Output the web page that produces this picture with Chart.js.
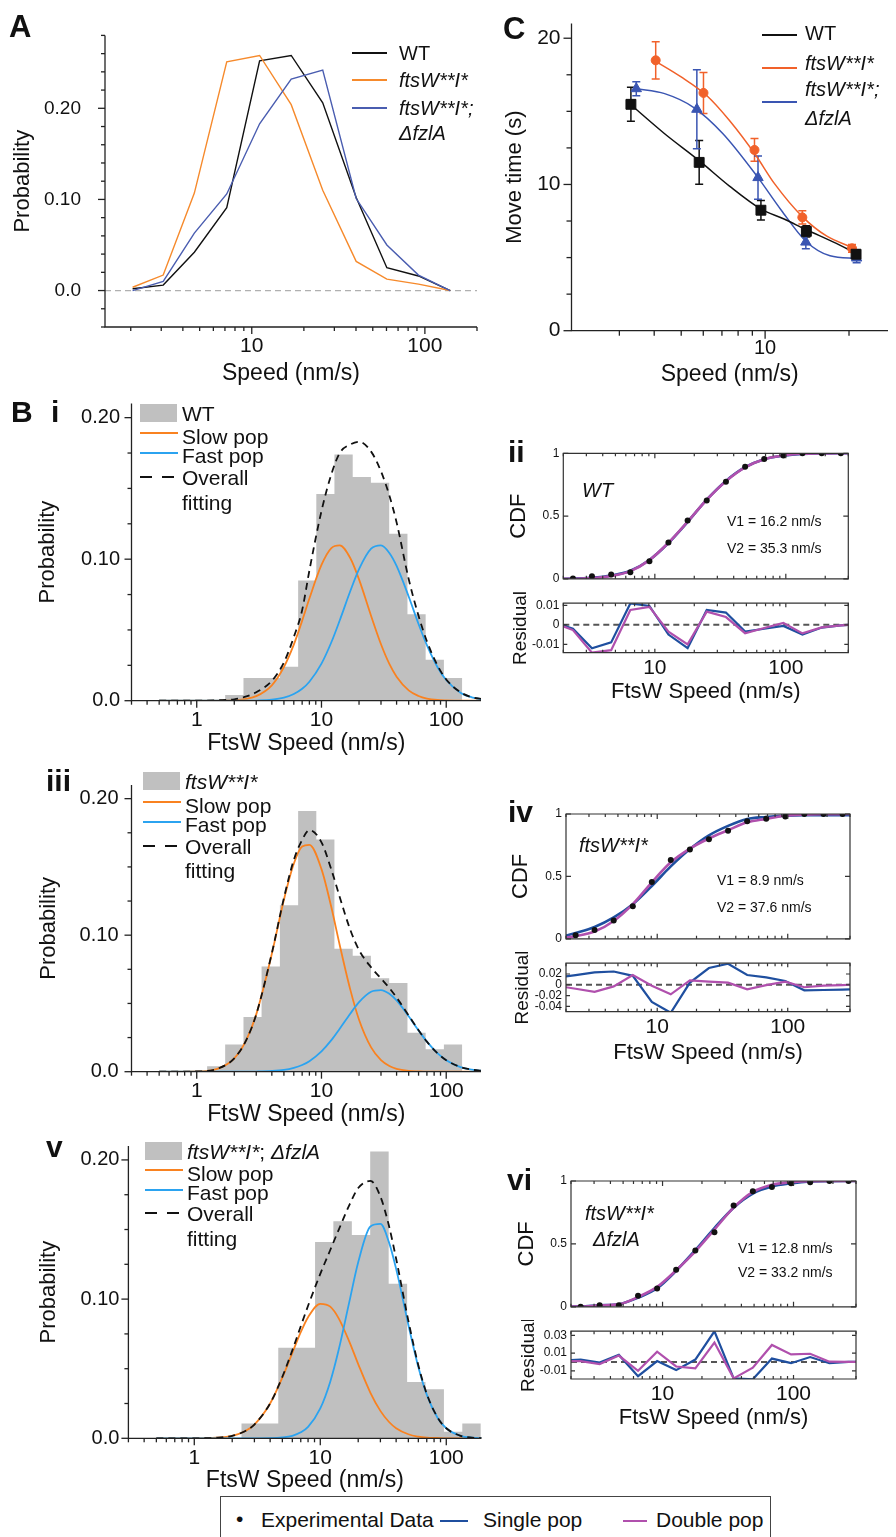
<!DOCTYPE html>
<html><head><meta charset="utf-8">
<script src="https://cdn.jsdelivr.net/npm/chart.js@4.4.1/dist/chart.umd.min.js"></script>
<style>
html,body{margin:0;padding:0;background:#fff;}
body{width:896px;height:1537px;overflow:hidden;position:relative;font-family:"Liberation Sans",Arial,sans-serif;color:#111;}
canvas{position:absolute;}
.t{position:absolute;white-space:nowrap;line-height:1;color:#111;}
.ln{position:absolute;}
</style></head><body>
<script>
// ---------------- DATA ----------------
// Panel A (probability vs speed)
const speedsA = [2.05, 3.08, 4.66, 7.17, 11.1, 16.9, 25.7, 40.1, 60.3, 91.8, 140];
const probWT_A = [0.002, 0.006, 0.042, 0.091, 0.252, 0.258, 0.206, 0.102, 0.025, 0.016, 0];
const probMut_A = [0.0036, 0.017, 0.107, 0.251, 0.258, 0.204, 0.110, 0.032, 0.0125, 0.007, 0];
const probFz_A = [0, 0.010, 0.063, 0.106, 0.183, 0.232, 0.242, 0.101, 0.050, 0.017, 0];

// Panel C (move time vs speed)
const speedWT_C = [3.30, 5.80, 9.66, 14.06, 21.2];
const timeWT_C = [15.48, 11.51, 8.24, 6.79, 5.23];
const errWT_C = [1.16, 1.5, 0.67, 0.38, 0.3];
const speedMut_C = [4.05, 6.01, 9.16, 13.6, 20.5];
const timeMut_C = [18.49, 16.26, 12.36, 7.75, 5.63];
const errMut_C = [1.27, 1.4, 0.78, 0.45, 0.27];
const speedFz_C = [3.45, 5.69, 9.43, 14.0, 21.3];
const timeFz_C = [16.55, 15.14, 10.47, 6.06, 4.97];
const errFz_C = [0.48, 2.7, 1.48, 0.45, 0.33];
const fitWTx_C = [3.30, 4.36, 5.80, 7.45, 9.61, 11.75, 14.06, 17.6, 21.2];
const fitWTy_C = [15.45, 13.47, 11.63, 9.89, 8.35, 7.62, 6.9, 6.06, 5.3];
const fitMutx_C = [4.05, 4.98, 6.17, 7.45, 9.23, 10.84, 13.6, 16.65, 20.67];
const fitMuty_C = [18.42, 17.37, 16.08, 14.37, 12.03, 10.02, 7.8, 6.46, 5.68];
const fitFzx_C = [3.44, 4.36, 5.55, 7.06, 9.43, 11.43, 14.0, 17.1, 21.3];
const fitFzy_C = [16.55, 16.21, 15.26, 13.47, 10.47, 8.24, 6.12, 5.12, 4.94];

// Panels B i / iii / v histograms
const binEdges = [1.21, 1.69, 2.37, 3.31, 4.64, 6.5, 9.09, 12.7, 17.8, 24.9, 34.9, 48.9, 68.4, 95.8, 134, 188];
const histI   = [0, 0.004, 0.016, 0.016, 0.024, 0.085, 0.146, 0.174, 0.158, 0.154, 0.118, 0.061, 0.029, 0.016, 0];
const histIII = [0.004, 0.020, 0.040, 0.077, 0.122, 0.191, 0.170, 0.090, 0.085, 0.0685, 0.065, 0.0285, 0.0164, 0.020, 0];
const histV   = [0, 0, 0.0106, 0.0106, 0.065, 0.065, 0.141, 0.156, 0.146, 0.206, 0.111, 0.0404, 0.0352, 0.0047, 0.0106];
const curveX  = [0.5, 1, 1.5, 2, 2.5, 3, 4, 5, 6, 7, 8, 10, 12, 14, 17, 20, 25, 30, 35, 40, 50, 60, 70, 85, 100, 130, 160, 200];
const slowI   = [0, 0, 0.0001, 0.0004, 0.0013, 0.0032, 0.0109, 0.0238, 0.0396, 0.0565, 0.0722, 0.0959, 0.1078, 0.1097, 0.1008, 0.0857, 0.0599, 0.0399, 0.026, 0.017, 0.0073, 0.0033, 0.0015, 0.0005, 0.0002, 0, 0, 0];
const fastI   = [0, 0, 0, 0, 0, 0.0001, 0.0007, 0.0021, 0.0047, 0.0084, 0.0134, 0.0262, 0.0413, 0.0567, 0.0773, 0.093, 0.1074, 0.1097, 0.1044, 0.0952, 0.0736, 0.0542, 0.0392, 0.0238, 0.0146, 0.0057, 0.0024, 0.0008];
const fitI    = [0, 0, 0.0003, 0.001, 0.003, 0.006, 0.014, 0.027, 0.045, 0.064, 0.092, 0.134, 0.160, 0.175, 0.181, 0.183, 0.176, 0.162, 0.145, 0.126, 0.086, 0.060, 0.042, 0.025, 0.015, 0.006, 0.0025, 0.001];
const slowIII = [0, 0.0002, 0.0025, 0.0098, 0.0233, 0.042, 0.0863, 0.126, 0.1523, 0.1649, 0.1662, 0.1484, 0.1204, 0.0928, 0.0603, 0.0381, 0.0178, 0.0085, 0.0042, 0.0021, 0.0006, 0.0002, 0, 0, 0, 0, 0, 0];
const fastIII = [0, 0, 0, 0, 0, 0.0001, 0.0005, 0.0013, 0.0028, 0.0049, 0.0077, 0.0149, 0.0231, 0.0315, 0.0425, 0.051, 0.0586, 0.0598, 0.0571, 0.0522, 0.0406, 0.0302, 0.022, 0.0136, 0.0084, 0.0034, 0.0015, 0.0005];
const fitIII  = [0, 0.0002, 0.0025, 0.0098, 0.0233, 0.042, 0.0868, 0.1273, 0.1551, 0.1698, 0.177, 0.168, 0.148, 0.128, 0.104, 0.0891, 0.0764, 0.0683, 0.0613, 0.0543, 0.0412, 0.0304, 0.022, 0.0136, 0.0084, 0.0034, 0.0015, 0.0005];
const slowV   = [0, 0, 0.0004, 0.0018, 0.0049, 0.0099, 0.025, 0.0436, 0.0614, 0.0762, 0.087, 0.0966, 0.0946, 0.0862, 0.0695, 0.0533, 0.0327, 0.0197, 0.0119, 0.0073, 0.0029, 0.0012, 0.0005, 0.0002, 0, 0, 0, 0];
const fastV   = [0, 0, 0, 0, 0, 0, 0.0001, 0.0006, 0.0018, 0.0043, 0.0082, 0.0215, 0.0407, 0.0636, 0.098, 0.1265, 0.1522, 0.154, 0.1411, 0.1217, 0.0816, 0.0513, 0.0314, 0.015, 0.0072, 0.0018, 0.0005, 0.0001];
const fitV    = [0, 0, 0.0004, 0.0018, 0.0049, 0.0099, 0.0251, 0.0442, 0.0632, 0.0805, 0.0952, 0.1181, 0.1353, 0.1498, 0.1675, 0.1798, 0.1849, 0.1737, 0.153, 0.129, 0.0845, 0.0525, 0.0319, 0.0152, 0.0072, 0.0018, 0.0005, 0.0001];

// Panels B ii / iv / vi CDF and residuals
const cdfX = [2.37, 3.31, 4.64, 6.5, 9.09, 12.7, 17.8, 24.9, 34.9, 48.9, 68.4, 95.8, 134, 188, 263];
const cdfII = [0.003, 0.02, 0.035, 0.053, 0.14, 0.29, 0.465, 0.623, 0.774, 0.892, 0.955, 0.982, 1.0, 1.0, 1.0];
const cdfIV = [0.028, 0.071, 0.146, 0.26, 0.455, 0.631, 0.715, 0.798, 0.866, 0.942, 0.962, 0.98, 1.0, 1.0, 1.0];
const cdfVI = [0, 0.013, 0.013, 0.088, 0.146, 0.295, 0.448, 0.592, 0.806, 0.919, 0.952, 0.982, 0.99, 1.0, 1.0];
const fitX = [2, 2.37, 3.31, 4.64, 6.5, 9.09, 12.7, 17.8, 24.9, 34.9, 48.9, 68.4, 95.8, 134, 188, 263, 300];
const singleII = [0.0005, 0.001, 0.008, 0.026, 0.064, 0.15, 0.285, 0.453, 0.631, 0.78, 0.889, 0.953, 0.981, 0.995, 0.999, 1.0, 1.0];
const doubleII = [0.0005, 0.0005, 0.006, 0.022, 0.061, 0.149, 0.287, 0.455, 0.63, 0.778, 0.888, 0.953, 0.983, 0.996, 0.999, 1.0, 1.0];
const singleIV = [0.025, 0.046, 0.094, 0.171, 0.277, 0.423, 0.58, 0.719, 0.829, 0.905, 0.96, 0.976, 0.987, 0.99, 0.99, 0.991, 0.991];
const doubleIV = [0.01, 0.021, 0.058, 0.143, 0.278, 0.453, 0.613, 0.723, 0.804, 0.87, 0.933, 0.961, 0.986, 0.995, 0.998, 0.999, 1.0];
const singleVI = [0.002, 0.003, 0.012, 0.021, 0.072, 0.147, 0.286, 0.451, 0.626, 0.788, 0.9, 0.956, 0.981, 0.996, 0.999, 1.0, 1.0];
const doubleVI = [0.001, 0.001, 0.011, 0.02, 0.078, 0.158, 0.29, 0.441, 0.614, 0.788, 0.913, 0.971, 0.99, 0.999, 1.0, 1.0, 1.0];
const resSingleII = [-0.0003, -0.002, -0.012, -0.009, 0.011, 0.0097, -0.005, -0.012, 0.0076, 0.0063, -0.0035, -0.002, -0.0006, -0.005, -0.0014, -0.0003, 0];
const resDoubleII = [-0.0008, -0.0027, -0.0143, -0.013, 0.0076, 0.0092, -0.0035, -0.010, 0.0068, 0.004, -0.0043, -0.0016, 0.001, -0.0044, -0.0013, -0.0003, 0];
const resSingleIV = [0.0154, 0.018, 0.023, 0.0246, 0.0166, -0.032, -0.052, 0.004, 0.031, 0.039, 0.018, 0.0137, 0.007, -0.0103, -0.0097, -0.009, -0.0086];
const resDoubleIV = [-0.0046, -0.0074, -0.013, -0.003, 0.018, -0.0017, -0.0177, 0.008, 0.0057, 0.004, -0.0086, -0.0006, 0.0057, -0.0046, -0.0017, -0.0006, 0];
const resSingleVI = [0.002, 0.0027, -0.0007, 0.0079, -0.016, 0.001, -0.0092, 0.0027, 0.0345, -0.0185, -0.0195, 0.0038, -0.0014, 0.0055, -0.0014, 0, 0];
const resDoubleVI = [0.001, 0.001, -0.0024, 0.0072, -0.0099, 0.0116, -0.0051, -0.0072, 0.0219, -0.0185, -0.0065, 0.0191, 0.0085, 0.0092, 0.0003, 0, 0];

// tick values / labels
const logMinorBig = [0.3,0.4,0.5,0.6,0.7,0.8,0.9,2,3,4,5,6,7,8,9,20,30,40,50,60,70,80,90,200];
const logMinorCdf = [2,3,4,5,6,7,8,9,20,30,40,50,60,70,80,90,200,300];

// ---------------- HELPERS ----------------
const FONT = '"Liberation Sans", Arial, Helvetica, sans-serif';
Chart.defaults.font.family = FONT;
Chart.defaults.color = '#111';

const C_ORANGE_A = '#f68a2c', C_BLUE_A = '#4a5db0';
const C_ORANGE_C = '#f1612a', C_BLUE_C = '#3a55b2';
const C_SLOW = '#f98220', C_FAST = '#2ba3f0', C_HIST = '#c0c0c0';
const C_SINGLE = '#1f4f9f', C_DOUBLE = '#b050ad';

function canvasAt(left, top, w, h) {
  const c = document.createElement('canvas');
  c.width = w; c.height = h;
  c.style.left = left + 'px'; c.style.top = top + 'px';
  c.style.width = w + 'px'; c.style.height = h + 'px';
  document.body.appendChild(c);
  return c;
}
function T(html, x, yc, size, extra) {
  const d = document.createElement('div');
  d.className = 't'; d.innerHTML = html;
  d.style.left = x + 'px'; d.style.top = (yc - size * 0.5) + 'px'; d.style.fontSize = size + 'px';
  if (extra) Object.assign(d.style, extra);
  document.body.appendChild(d);
}
function L(x1, x2, y, color, w, dash) {
  const d = document.createElement('div');
  d.className = 'ln';
  d.style.left = x1 + 'px'; d.style.top = (y - w / 2) + 'px';
  d.style.width = (x2 - x1) + 'px'; d.style.height = w + 'px';
  d.style.background = dash ? `repeating-linear-gradient(to right, ${color} 0 ${dash[0]}px, transparent ${dash[0]}px ${dash[0] + dash[1]}px)` : color;
  document.body.appendChild(d);
}
function box(x, y, w, h, bg, border) {
  const d = document.createElement('div');
  d.className = 'ln';
  Object.assign(d.style, {left: x + 'px', top: y + 'px', width: w + 'px', height: h + 'px', background: bg || 'transparent', border: border || 'none', boxSizing: 'border-box'});
  document.body.appendChild(d);
}
const pts = (xs, ys) => xs.map((x, i) => ({x, y: ys[i]}));

function xLog(o) {
  return {
    type: 'logarithmic', min: o.min, max: o.max, display: o.show !== false,
    grid: {display: false, drawTicks: false}, border: {display: false},
    afterBuildTicks: s => { s.ticks = o.major.map(v => ({value: v})); },
    afterFit: s => { if (o.h !== undefined) s.height = o.h; },
    ticks: {autoSkip: false, maxRotation: 0, minRotation: 0, padding: o.pad || 0, font: {size: o.fs || 20}, color: '#111', callback: (v, i) => o.labels[i]},
    title: o.title ? {display: true, text: o.title, font: {size: o.tfs}, color: '#111', padding: {top: 0, bottom: o.tpad}} : {display: false}
  };
}
function yLin(o) {
  return {
    type: 'linear', min: o.min, max: o.max,
    grid: {display: false, drawTicks: false}, border: {display: false},
    afterBuildTicks: s => { s.ticks = o.major.map(v => ({value: v})); },
    afterFit: s => { s.width = o.w; },
    ticks: {autoSkip: false, padding: o.pad, font: {size: o.fs}, color: '#111', callback: (v, i) => o.labels[i]},
    title: {display: true, text: o.title, font: {size: o.tfs}, color: '#111', padding: {top: o.tpad, bottom: 0}}
  };
}

const decor = {
  id: 'decor',
  beforeDatasetsDraw(chart, args, o) {
    if (!o || !o.zero) return;
    const ctx = chart.ctx, ca = chart.chartArea, y = chart.scales.y.getPixelForValue(0);
    ctx.save();
    ctx.strokeStyle = o.zero.color; ctx.lineWidth = o.zero.width; ctx.setLineDash(o.zero.dash);
    ctx.beginPath(); ctx.moveTo(ca.left, y); ctx.lineTo(ca.right, y); ctx.stroke();
    ctx.restore();
  },
  afterDatasetsDraw(chart, args, o) {
    if (!o || !o.on) return;
    const ctx = chart.ctx, ca = chart.chartArea, xs = chart.scales.x, ys = chart.scales.y;
    ctx.save();
    ctx.strokeStyle = o.color || '#222'; ctx.lineWidth = o.lw || 1.3;
    ctx.beginPath();
    if (o.box) ctx.rect(ca.left, ca.top, ca.right - ca.left, ca.bottom - ca.top);
    else { ctx.moveTo(ca.left, ca.top); ctx.lineTo(ca.left, ca.bottom); ctx.lineTo(ca.right, ca.bottom); }
    ctx.stroke();
    const dir = o.inward ? -1 : 1;
    const xt = (vals, len) => (vals || []).forEach(v => {
      const p = xs.getPixelForValue(v);
      if (p < ca.left - 0.5 || p > ca.right + 0.5) return;
      ctx.beginPath(); ctx.moveTo(p, ca.bottom); ctx.lineTo(p, ca.bottom + dir * len);
      if (o.mirror) { ctx.moveTo(p, ca.top); ctx.lineTo(p, ca.top + len); }
      ctx.stroke();
    });
    const yt = (vals, len) => (vals || []).forEach(v => {
      const p = ys.getPixelForValue(v);
      if (p < ca.top - 0.5 || p > ca.bottom + 0.5) return;
      ctx.beginPath(); ctx.moveTo(ca.left, p); ctx.lineTo(ca.left - dir * len, p);
      if (o.mirror) { ctx.moveTo(ca.right, p); ctx.lineTo(ca.right - len, p); }
      ctx.stroke();
    });
    xt(o.xMajor, o.Lmaj); xt(o.xMinor, o.Lmin); yt(o.yMajor, o.Lmaj); yt(o.yMinor, o.Lmin);
    ctx.restore();
  }
};
const errbars = {
  id: 'errbars',
  beforeDatasetsDraw(chart) {
    const ctx = chart.ctx, xs = chart.scales.x, ys = chart.scales.y;
    chart.data.datasets.forEach(ds => {
      if (!ds.errs) return;
      ctx.save(); ctx.strokeStyle = ds.borderColor; ctx.lineWidth = 1.5;
      ds.data.forEach((p, j) => {
        const e = ds.errs[j], x = xs.getPixelForValue(p.x);
        const y1 = ys.getPixelForValue(p.y + e), y2 = ys.getPixelForValue(p.y - e);
        ctx.beginPath();
        ctx.moveTo(x, y1); ctx.lineTo(x, y2);
        ctx.moveTo(x - 4, y1); ctx.lineTo(x + 4, y1);
        ctx.moveTo(x - 4, y2); ctx.lineTo(x + 4, y2);
        ctx.stroke();
      });
      ctx.restore();
    });
  }
};
function opts(pad, x, y, dec) {
  return {
    responsive: false, animation: false, devicePixelRatio: 1,
    layout: {padding: pad},
    plugins: {legend: {display: false}, tooltip: {enabled: false}, decor: dec},
    scales: {x, y},
    elements: {point: {radius: 0}}
  };
}
function line(data, color, w, extra) {
  return Object.assign({data, borderColor: color, backgroundColor: color, borderWidth: w, pointRadius: 0, fill: false, tension: 0}, extra || {});
}

// ---------------- PANEL A ----------------
new Chart(canvasAt(0, 0, 490, 390), {
  type: 'line',
  data: {datasets: [
    line(pts(speedsA, probFz_A), C_BLUE_A, 1.4),
    line(pts(speedsA, probMut_A), C_ORANGE_A, 1.4),
    line(pts(speedsA, probWT_A), '#111', 1.4)
  ]},
  options: opts({top: 27, right: 13, left: 0, bottom: 0},
    xLog({min: 1.42, max: 200, major: [10, 100], labels: ['10', '100'], h: 63, pad: 7, fs: 21, title: 'Speed (nm/s)', tfs: 23, tpad: 3}),
    yLin({min: -0.04, max: 0.28, major: [0, 0.1, 0.2], labels: ['0.0', '0.10', '0.20'], w: 105, pad: 24, fs: 19, title: 'Probability', tfs: 22, tpad: 10}),
    {on: true, xMajor: [10, 100], xMinor: [2,3,4,5,6,7,8,9,20,30,40,50,60,70,80,90,200], yMajor: [0, 0.1, 0.2],
     yMinor: [-0.04,-0.02,0.02,0.04,0.06,0.08,0.12,0.14,0.16,0.18,0.22,0.24,0.26,0.28], Lmaj: 7, Lmin: 4, lw: 1.3,
     zero: {color: '#b0b0b0', width: 1.2, dash: [6, 4]}}),
  plugins: [decor]
});

// ---------------- PANEL C ----------------
new Chart(canvasAt(480, 0, 416, 390), {
  type: 'line',
  data: {datasets: [
    line(pts(speedWT_C, timeWT_C), '#111', 1, {showLine: false, pointStyle: 'rect', pointRadius: 7, errs: errWT_C}),
    line(pts(speedMut_C, timeMut_C), C_ORANGE_C, 1, {showLine: false, pointStyle: 'circle', pointRadius: 4.5, errs: errMut_C}),
    line(pts(speedFz_C, timeFz_C), C_BLUE_C, 1, {showLine: false, pointStyle: 'triangle', pointRadius: 6, errs: errFz_C}),
    line(pts(fitWTx_C, fitWTy_C), '#111', 1.5, {cubicInterpolationMode: 'monotone'}),
    line(pts(fitMutx_C, fitMuty_C), C_ORANGE_C, 1.5, {cubicInterpolationMode: 'monotone'}),
    line(pts(fitFzx_C, fitFzy_C), C_BLUE_C, 1.5, {cubicInterpolationMode: 'monotone'})
  ]},
  options: opts({top: 16.3, right: 0, left: 0, bottom: 0},
    xLog({min: 2.02, max: 27.6, major: [10], labels: ['10'], h: 59.3, pad: 6, fs: 20, title: 'Speed (nm/s)', tfs: 23, tpad: 1.5}),
    yLin({min: 0, max: 21, major: [0, 10, 20], labels: ['0', '10', '20'], w: 91.5, pad: 11, fs: 21, title: 'Move time (s)', tfs: 22, tpad: 22}),
    {on: true, xMajor: [10], xMinor: [2,3,4,5,6,7,8,9,20], yMajor: [0, 10, 20], yMinor: [2.5,5,7.5,12.5,15,17.5], Lmaj: 8, Lmin: 5, lw: 1.3}),
  plugins: [decor, errbars]
});

// ---------------- HISTOGRAM PANELS ----------------
function histChart(top, h, padTop, yW, xH, padRight, tpadY, ypad, xtpad, hist, slow, fast, fit) {
  const stepData = binEdges.map((e, i) => ({x: e, y: i < hist.length ? hist[i] : 0}));
  new Chart(canvasAt(0, top, 490, h), {
    type: 'line',
    data: {datasets: [
      line(pts(curveX, fit), '#111', 1.8, {borderDash: [7, 5], cubicInterpolationMode: 'monotone'}),
      line(pts(curveX, fast), C_FAST, 1.8, {cubicInterpolationMode: 'monotone'}),
      line(pts(curveX, slow), C_SLOW, 1.8, {cubicInterpolationMode: 'monotone'}),
      {data: stepData, stepped: true, borderWidth: 0, borderColor: 'rgba(0,0,0,0)', backgroundColor: C_HIST, fill: 'origin', pointRadius: 0}
    ]},
    options: opts({top: padTop, right: padRight, left: 0, bottom: 0},
      xLog({min: 0.3, max: 190, major: [1, 10, 100], labels: ['1', '10', '100'], h: xH, pad: 7, fs: 21, title: 'FtsW Speed (nm/s)', tfs: 23, tpad: xtpad}),
      yLin({min: 0, max: 0.21, major: [0, 0.1, 0.2], labels: ['0.0', '0.10', '0.20'], w: yW, pad: ypad, fs: 20, title: 'Probability', tfs: 22, tpad: tpadY}),
      {on: true, xMajor: [1, 10, 100], xMinor: logMinorBig, yMajor: [0, 0.1, 0.2], yMinor: [0.025,0.05,0.075,0.125,0.15,0.175], Lmaj: 7, Lmin: 4, lw: 1.3}),
    plugins: [decor]
  });
}
histChart(380, 380, 21.45, 131.5, 59.3, 9, 35, 11.5, 3, histI, slowI, fastI, fitI);
histChart(760, 370, 12.45, 131.5, 58.3, 9, 36, 13, 2, histIII, slowIII, fastIII, fitIII);
histChart(1125, 370, 15.1, 128.4, 56.7, 8.6, 36, 9, 1, histV, slowV, fastV, fitV);

// ---------------- CDF + RESIDUAL PANELS ----------------
function cdfChart(top, padTop, padBottom, yW, padRight, titlePad, cdf, single, dbl) {
  new Chart(canvasAt(480, top, 416, 150), {
    type: 'line',
    data: {datasets: [
      line(pts(cdfX, cdf), '#111', 1, {showLine: false, pointRadius: 3, pointBorderWidth: 0}),
      line(pts(fitX, dbl), C_DOUBLE, 2.6, {cubicInterpolationMode: 'monotone'}),
      line(pts(fitX, single), C_SINGLE, 2.6, {cubicInterpolationMode: 'monotone'})
    ]},
    options: opts({top: padTop, right: padRight, left: 0, bottom: padBottom},
      xLog({min: 2, max: 300, major: [10, 100], labels: ['10', '100'], show: false}),
      yLin({min: 0, max: 1, major: [0, 0.5, 1], labels: ['0', '0.5', '1'], w: yW, pad: 4, fs: 12, title: 'CDF', tfs: 22, tpad: titlePad}),
      {on: true, box: true, inward: true, mirror: true, xMajor: [10, 100], xMinor: logMinorCdf, yMajor: [0, 0.5, 1], Lmaj: 5, Lmin: 3, lw: 1.2, color: '#333'}),
    plugins: [decor]
  });
}
function resChart(top, h, padTop, yW, xH, padRight, titlePad, xtpad, ymin, ymax, major, labels, rs, rd) {
  new Chart(canvasAt(480, top, 416, h), {
    type: 'line',
    data: {datasets: [
      line(pts(fitX, rd), C_DOUBLE, 2.2),
      line(pts(fitX, rs), C_SINGLE, 2.2)
    ]},
    options: opts({top: padTop, right: padRight, left: 0, bottom: 0},
      xLog({min: 2, max: 300, major: [10, 100], labels: ['10', '100'], h: xH, pad: 3, fs: 21, title: 'FtsW Speed (nm/s)', tfs: 22, tpad: xtpad}),
      yLin({min: ymin, max: ymax, major, labels, w: yW, pad: 4, fs: 12, title: 'Residual', tfs: 19, tpad: titlePad}),
      {on: true, box: true, inward: true, mirror: true, xMajor: [10, 100], xMinor: logMinorCdf, yMajor: major, Lmaj: 4, Lmin: 3, lw: 1.2, color: '#333',
       zero: {color: '#555', width: 2, dash: [6, 4]}}),
    plugins: [decor]
  });
}
cdfChart(440, 13.3, 4, 83.3, 47.7, 26, cdfII, singleII, doubleII);
resChart(592, 118, 7.3, 83.3, 57.3, 47.7, 29.4, 5.1, -0.0143, 0.0111, [-0.01, 0, 0.01], ['-0.01', '0', '0.01'], resSingleII, resDoubleII);
cdfChart(800, 14, 4, 86, 46, 27.5, cdfIV, singleIV, doubleIV);
resChart(952, 123, 7.3, 86, 63.3, 46, 31, 9.1, -0.05, 0.04, [-0.04, -0.02, 0, 0.02], ['-0.04', '-0.02', '0', '0.02'], resSingleIV, resDoubleIV);
cdfChart(1168, 13, 4.7, 91, 40, 33.5, cdfVI, singleVI, doubleVI);
resChart(1320, 120, 6.7, 91, 61, 40, 37.6, 8.8, -0.0192, 0.0346, [-0.01, 0.01, 0.03], ['-0.01', '0.01', '0.03'], resSingleVI, resDoubleVI);

// ---------------- TEXT, LEGENDS ----------------
const B = {fontWeight: 'bold'};
T('A', 9, 26, 31, B);
T('C', 503, 28, 31, B);
T('B', 11, 412, 30, B);
T('i', 51, 412, 30, B);
T('ii', 508, 452, 30, B);
T('iii', 46, 781, 30, B);
T('iv', 508, 812, 30, B);
T('v', 46, 1147, 30, B);
T('vi', 507, 1180, 30, B);

// legend A
L(352, 387, 53, '#111', 1.5); T('WT', 399, 53, 20);
L(352, 387, 80, C_ORANGE_A, 1.5); T('<i>ftsW**I*</i>', 399, 80, 20);
L(352, 387, 108, C_BLUE_A, 1.5); T('<i>ftsW**I*;</i>', 399, 108, 20); T('<i>ΔfzlA</i>', 399, 133, 20);

// legend C
L(762, 797, 35, '#111', 1.5); T('WT', 805, 33, 20);
L(762, 797, 68, C_ORANGE_C, 1.5); T('<i>ftsW**I*</i>', 805, 63, 20);
L(762, 797, 102, C_BLUE_C, 1.5); T('<i>ftsW**I*;</i>', 805, 89, 20); T('<i>ΔfzlA</i>', 805, 118, 20);

// histogram legends
function histLegend(x, ySw, label, yS, yF, yO, yFit) {
  box(x, ySw - 9, 37, 18, C_HIST);
  T(label, x + 42, ySw, 21);
  L(x, x + 38, yS - 3, C_SLOW, 2); T('Slow pop', x + 42, yS, 21);
  L(x, x + 38, yF - 2, C_FAST, 2); T('Fast pop', x + 42, yF, 21);
  L(x, x + 38, yO, '#111', 2, [12, 10]); T('Overall', x + 42, yO, 21);
  T('fitting', x + 42, yFit, 21);
}
histLegend(140, 413, 'WT', 436, 455, 477, 502);
histLegend(143, 781, '<i>ftsW**I*</i>', 805, 824, 846, 870);
histLegend(145, 1151, '<i>ftsW**I*</i>; <i>ΔfzlA</i>', 1173, 1192, 1213, 1238);

// CDF annotations
T('<i>WT</i>', 582, 490, 20);
T('V1 = 16.2 nm/s', 727, 521, 14); T('V2 = 35.3 nm/s', 727, 548, 14);
T('<i>ftsW**I*</i>', 579, 845, 20);
T('V1 = 8.9 nm/s', 717, 880, 14); T('V2 = 37.6 nm/s', 717, 907, 14);
T('<i>ftsW**I*</i>', 585, 1213, 20); T('<i>ΔfzlA</i>', 593, 1239, 20);
T('V1 = 12.8 nm/s', 738, 1248, 14); T('V2 = 33.2 nm/s', 738, 1272, 14);

// bottom legend
box(220, 1496, 551, 60, '#fff', '1.5px solid #444');
T('•', 236, 1518, 21);
T('Experimental Data', 261, 1519, 21);
L(440, 468, 1521, C_SINGLE, 2.5);
T('Single pop', 483, 1519, 21);
L(623, 647, 1521, C_DOUBLE, 2.5);
T('Double pop', 656, 1519, 21);
</script>
</body></html>
